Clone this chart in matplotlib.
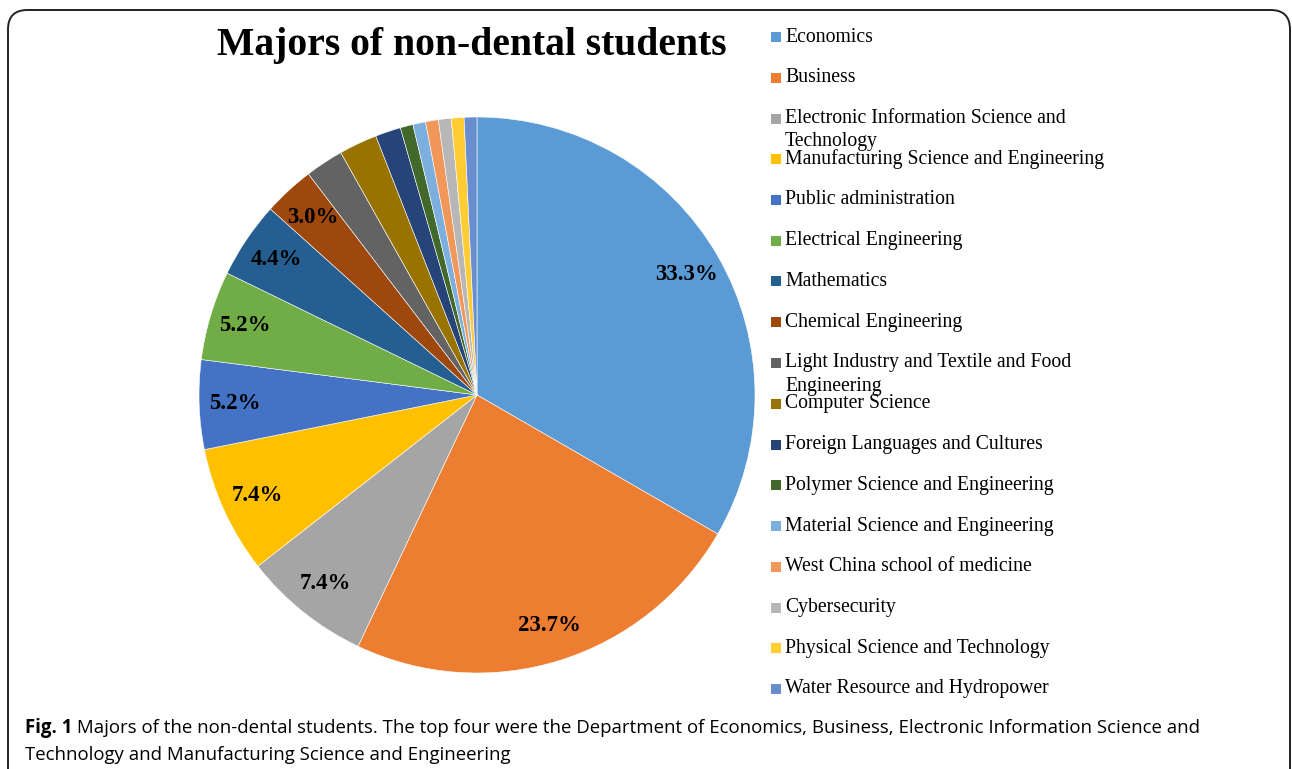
import matplotlib
matplotlib.use("Agg")
import matplotlib.pyplot as plt
from matplotlib.patches import FancyBboxPatch, Rectangle

majors = ["Economics", "Business",
          "Electronic Information Science and\nTechnology",
          "Manufacturing Science and Engineering", "Public administration",
          "Electrical Engineering", "Mathematics", "Chemical Engineering",
          "Light Industry and Textile and Food\nEngineering",
          "Computer Science", "Foreign Languages and Cultures",
          "Polymer Science and Engineering", "Material Science and Engineering",
          "West China school of medicine", "Cybersecurity",
          "Physical Science and Technology", "Water Resource and Hydropower"]
# student counts (135 in total), read from the percentages
counts = [45, 32, 10, 10, 7, 7, 6, 4, 3, 3, 2, 1, 1, 1, 1, 1, 1]
colors = ["#5B9BD5", "#ED7D31", "#A5A5A5", "#FFC000", "#4472C4", "#70AD47",
          "#255E91", "#9E480E", "#636363", "#997300", "#264478", "#43682B",
          "#7CAFDD", "#F1975A", "#B7B7B7", "#FFCD33", "#698ED0"]

W, H = 1292, 769
fig = plt.figure(figsize=(W / 100, H / 100), dpi=100)

def fx(px):
    return px / W

def fy(py):
    return 1 - py / H

# rounded frame around the figure panel
frame = FancyBboxPatch((fx(8), fy(800)), fx(1282), fy(10) - fy(800),
                       boxstyle="round,pad=0,rounding_size=0.015",
                       transform=fig.transFigure, fill=False,
                       edgecolor="#222222", linewidth=1.4,
                       mutation_aspect=W / H)
fig.patches.append(frame)

# pie
cx, cy, r = 477, 395, 278
ax = fig.add_axes([fx(cx - r), fy(cy + r), fx(2 * r), fy(cy - r) - fy(cy + r)])

def pct(p):
    return "%.1f%%" % p if p >= 2.5 else ""

wedges, texts, autotexts = ax.pie(counts, colors=colors, startangle=90,
                                  counterclock=False, autopct=pct,
                                  pctdistance=0.87,
                                  wedgeprops=dict(edgecolor="white", linewidth=0.4),
                                  textprops=dict(family="Liberation Serif",
                                                 fontweight="bold", fontsize=16.5))
ax.set_xlim(-1, 1)
ax.set_ylim(-1, 1)
ax.set_aspect("equal")
ax.axis("off")

fig.text(fx(472), fy(46), "Majors of non-dental students", family="Liberation Serif",
         fontweight="bold", fontsize=28.5, ha="center", va="center")

# legend, drawn by hand to keep the even spacing of the original
y0, step = 37, 40.75
for i, (name, c) in enumerate(zip(majors, colors)):
    y = y0 + i * step
    fig.patches.append(Rectangle((fx(771), fy(y + 5)), fx(10), fy(y - 5) - fy(y + 5),
                                 transform=fig.transFigure, facecolor=c,
                                 edgecolor="none"))
    for k, line in enumerate(name.split("\n")):
        fig.text(fx(785), fy(y + k * 23), line, family="Liberation Serif",
                 fontsize=14.2, ha="left", va="center")

# caption
cap_font = ["Liberation Sans Narrow", "Open Sans"]
fs = 13
fig_lbl = fig.text(fx(25), fy(733), "Fig. 1", family=cap_font, fontweight="bold",
                   fontsize=fs, ha="left", va="baseline")
rest = fig.text(fx(25), fy(733), " Majors of the non-dental students. The top four were "
                "the Department of Economics, Business, Electronic Information Science and",
                family=cap_font, fontsize=fs, ha="left", va="baseline")
line2 = fig.text(fx(25), fy(760), "Technology and Manufacturing Science and Engineering",
                 family=cap_font, fontsize=fs, ha="left", va="baseline")
rend = fig.canvas.get_renderer()
w1 = fig_lbl.get_window_extent(rend).width
w2 = rest.get_window_extent(rend).width
scale = (1195 - 25) / (w1 + w2)
for t in (fig_lbl, rest, line2):
    t.set_fontsize(fs * scale)
w1 = fig_lbl.get_window_extent(rend).width
rest.set_x(fx(25 + w1))

fig.savefig("out.png", dpi=100)
